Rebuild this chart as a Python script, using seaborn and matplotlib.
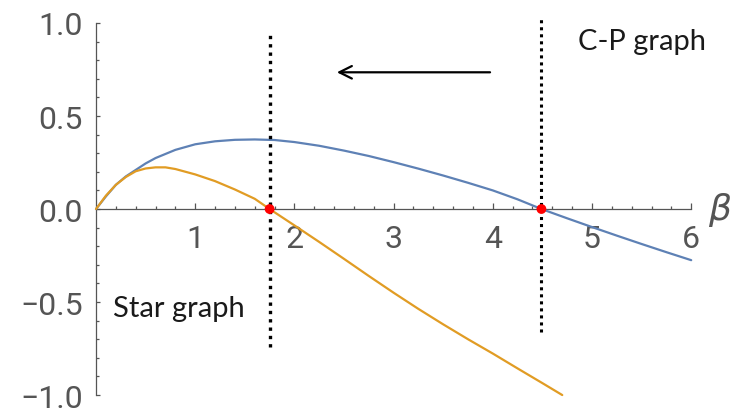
import numpy as np
import matplotlib.pyplot as plt
import seaborn as sns

# values
beta_cp = [0.0, 0.1, 0.2, 0.3, 0.4, 0.5, 0.6, 0.8, 1.0, 1.2, 1.4, 1.6, 1.8, 2.0,
           2.25, 2.5, 2.75, 3.0, 3.25, 3.5, 3.75, 4.0, 4.25, 4.49, 4.75, 5.0,
           5.25, 5.5, 5.75, 6.0]
f_cp = [0.0, 0.068, 0.13, 0.175, 0.21, 0.245, 0.274, 0.318, 0.348, 0.364, 0.372,
        0.374, 0.371, 0.36, 0.34, 0.314, 0.285, 0.252, 0.217, 0.18, 0.141, 0.1,
        0.052, 0.0, -0.05, -0.097, -0.143, -0.188, -0.232, -0.275]

beta_star = [0.0, 0.1, 0.2, 0.3, 0.4, 0.5, 0.6, 0.7, 0.8, 1.0, 1.2, 1.4, 1.6, 1.75,
             2.0, 2.25, 2.5, 2.75, 3.0, 3.25, 3.5, 3.75, 4.0, 4.25, 4.5, 4.7]
f_star = [0.0, 0.072, 0.13, 0.172, 0.203, 0.218, 0.224, 0.224, 0.215, 0.186, 0.15,
          0.105, 0.055, 0.0, -0.088, -0.177, -0.268, -0.36, -0.45, -0.537, -0.62,
          -0.70, -0.777, -0.857, -0.936, -1.0]

roots = [1.75, 4.49]
root_line_top = [0.95, 1.03]
root_line_bottom = [-0.74, -0.66]

x_ticks = [1, 2, 3, 4, 5, 6]
y_ticks = [-1.0, -0.5, 0.0, 0.5, 1.0]
y_labels = ['\u22121.0', '\u22120.5', '0.0', '0.5', '1.0']

sns.set_style("white")
plt.rcParams['font.family'] = ['Roboto', 'DejaVu Sans']

fig = plt.figure(figsize=(7.3, 4.1), dpi=100)
ax = fig.add_axes([0, 0, 1, 1])

sns.lineplot(x=beta_cp, y=f_cp, color='#5E81B5', lw=1.6, ax=ax, sort=False, estimator=None, zorder=3)
sns.lineplot(x=beta_star, y=f_star, color='#E19C24', lw=1.6, ax=ax, sort=False, estimator=None, zorder=3)

# dotted markers at the roots
ax.plot([roots[0]] * 2, [root_line_bottom[0], root_line_top[0]], color='black', lw=2.4,
        linestyle=(0, (1, 1.5)), dash_capstyle='butt', zorder=4)
ax.plot([roots[1]] * 2, [root_line_bottom[1], root_line_top[1]], color='black', lw=2.2,
        linestyle=(0, (1, 1.3)), dash_capstyle='butt', zorder=4)
sns.scatterplot(x=roots, y=[0, 0], color='red', s=50, edgecolor='none', ax=ax, zorder=5)

ax.annotate('', xy=(2.40, 0.735), xytext=(4.0, 0.735),
            arrowprops=dict(arrowstyle='->, head_length=0.6, head_width=0.3',
                            lw=1.6, color='black', mutation_scale=15))

ax.text(4.86, 0.86, 'C-P graph', family='Lato', fontsize=21, color='#1a1a1a', va='baseline')
ax.text(0.17, -0.574, 'Star graph', family='Lato', fontsize=21, color='#1a1a1a', va='baseline')
ax.text(6.17, 0.0, '\u03b2', family='DejaVu Sans', style='italic', fontsize=26,
        color='#555555', va='center')

ax.set_xlim(-0.968, 6.391)
ax.set_ylim(-1.075, 1.129)

for s in ['top', 'right']:
    ax.spines[s].set_visible(False)
ax.spines['left'].set_position(('data', 0))
ax.spines['bottom'].set_position(('data', 0))
ax.spines['left'].set_bounds(-1, 1)
ax.spines['bottom'].set_bounds(0, 6)
for s in ['left', 'bottom']:
    ax.spines[s].set_color('#555555')
    ax.spines[s].set_linewidth(0.9)

ax.set_xticks(x_ticks)
ax.set_xticks([v for v in np.arange(0.2, 6.01, 0.2) if abs(v - round(v)) > 1e-6], minor=True)
ax.set_yticks(y_ticks)
ax.set_yticklabels(y_labels)
ax.set_yticks([v for v in np.arange(-0.9, 0.95, 0.1) if abs(v * 2 - round(v * 2)) > 1e-6], minor=True)

ax.tick_params(axis='both', which='both', direction='in', color='#555555', labelcolor='#555555',
               labelsize=23, width=0.9, bottom=True, left=True, top=False, right=False)
ax.tick_params(axis='x', which='major', length=4.5, pad=11)
ax.tick_params(axis='x', which='minor', length=2.2)
ax.tick_params(axis='y', which='major', length=3.2, pad=9.5)
ax.tick_params(axis='y', which='minor', length=1.8)
ax.grid(False)

fig.savefig('out.png', dpi=100)
